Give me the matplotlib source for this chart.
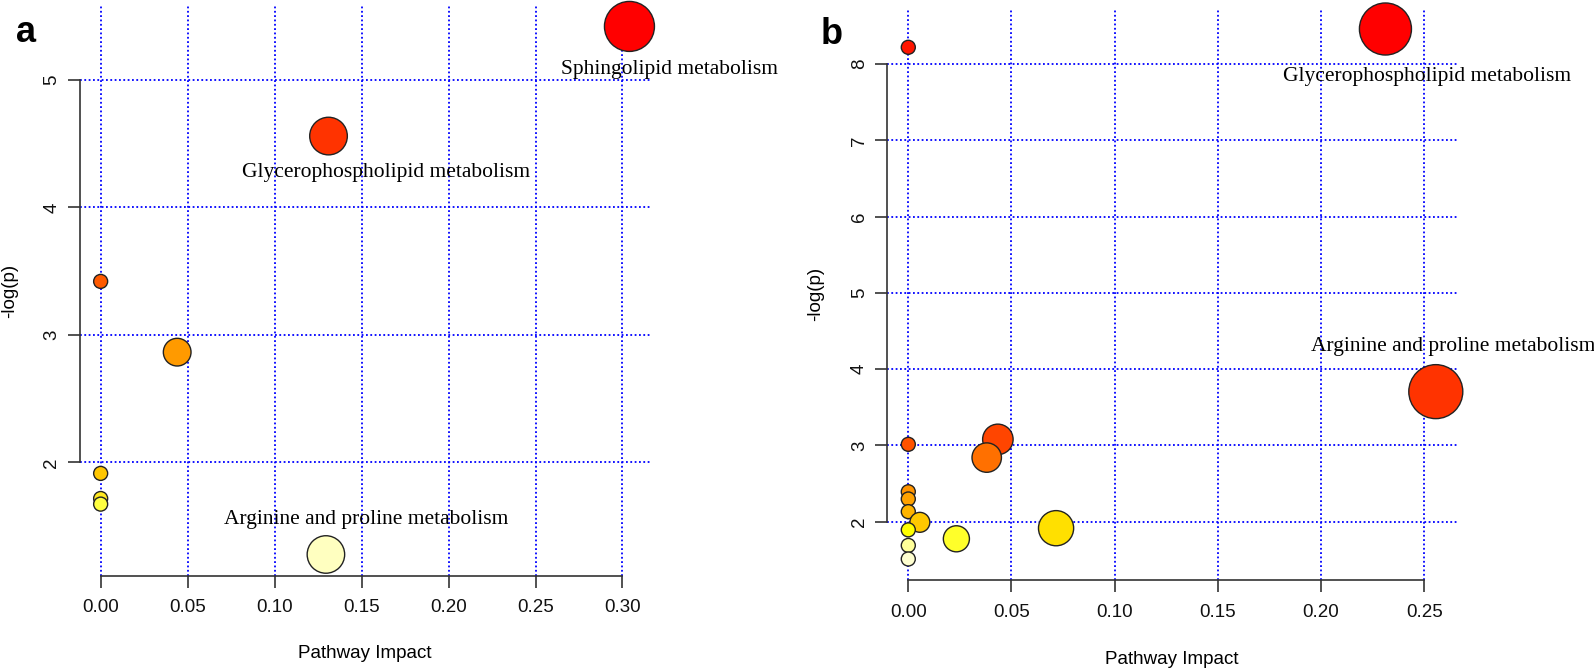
import matplotlib
matplotlib.use("Agg")
import matplotlib.pyplot as plt
import numpy as np

W, H, DPI = 1594, 668, 100

# ---------------- data: panel a ----------------
a_impact = [0.304, 0.131, 0.000, 0.044, 0.000, 0.000, 0.000, 0.1295]
a_logp = [5.42, 4.56, 3.42, 2.865, 1.914, 1.717, 1.673, 1.278]
a_colors = ["#FF0000", "#FF3300", "#FF5A00", "#FF9A00", "#FFC600", "#FFE820", "#FFFF40", "#FFFFC0"]
a_xticks = [0.00, 0.05, 0.10, 0.15, 0.20, 0.25, 0.30]
a_yticks = [2, 3, 4, 5]
a_labels = {0: "Sphingolipid metabolism", 1: "Glycerophospholipid metabolism",
            7: "Arginine and proline metabolism"}

# ---------------- data: panel b ----------------
b_impact = [0.2312, 0.000, 0.2556, 0.0434, 0.000, 0.038, 0.000, 0.000, 0.000,
            0.0056, 0.0716, 0.000, 0.0233, 0.000, 0.000]
b_logp = [8.46, 8.22, 3.704, 3.078, 3.013, 2.839, 2.391, 2.296, 2.130,
          1.99, 1.913, 1.891, 1.774, 1.687, 1.509]
b_colors = ["#FF0000", "#FF1500", "#FF3300", "#FF4500", "#FF5200", "#FF7000", "#FF9400",
            "#FFA200", "#FFB400", "#FFC800", "#FFE000", "#FFFF00", "#FFFF2A", "#FFFF99", "#FFFFD0"]
b_xticks = [0.00, 0.05, 0.10, 0.15, 0.20, 0.25]
b_yticks = [2, 3, 4, 5, 6, 7, 8]
b_labels = {0: "Glycerophospholipid metabolism", 2: "Arginine and proline metabolism"}

# label offsets (pixels, right / down) -- styling
a_offsets = {0: (40, 43), 1: (58, 36), 7: (40, -35)}
b_offsets = {0: (42, 47), 2: (17, -45)}

PX2PT = 72.0 / DPI


def rlim(v):
    lo, hi = min(v), max(v)
    e = 0.04 * (hi - lo)
    return lo - e, hi + e


def draw(ax, impact, logp, colors, xticks, yticks, labels, offsets, kmax):
    impact = np.asarray(impact)
    r = 7 + kmax * np.sqrt(impact / impact.max())
    s = (2 * r * PX2PT) ** 2
    ax.set_xlim(*rlim(impact))
    ax.set_ylim(*rlim(logp))
    ax.set_xticks(xticks)
    ax.set_xticklabels([f"{t:.2f}" for t in xticks])
    ax.set_yticks(yticks)
    ax.set_yticklabels([str(t) for t in yticks])
    for sp in ["top", "right"]:
        ax.spines[sp].set_visible(False)
    for sp in ["left", "bottom"]:
        ax.spines[sp].set_color("#333333")
        ax.spines[sp].set_linewidth(1.2)
    ax.spines["left"].set_bounds(yticks[0], yticks[-1])
    ax.spines["bottom"].set_bounds(xticks[0], xticks[-1])
    ax.grid(True, color="#0000FF", linestyle=(0, (1.0, 1.4)), linewidth=1.3)
    ax.set_axisbelow(True)
    ax.tick_params(direction="out", length=8.3, width=1.2, color="#333333",
                   labelsize=13.5, labelcolor="#111111")
    ax.tick_params(axis="x", pad=8.5)
    ax.tick_params(axis="y", labelrotation=90, pad=5.5)
    for lab in ax.get_yticklabels():
        lab.set_va("center")
    ax.scatter(impact, logp, s=s, c=colors, edgecolors="#222222", linewidths=1.0,
               zorder=3, clip_on=False)
    for i, name in labels.items():
        dx, dy = offsets[i]
        ax.annotate(name, xy=(impact[i], logp[i]), xytext=(dx * PX2PT, -dy * PX2PT),
                    textcoords="offset points", ha="center", va="center",
                    family="Liberation Serif", fontsize=15.5, color="black",
                    annotation_clip=False, zorder=4)


fig = plt.figure(figsize=(W / DPI, H / DPI), dpi=DPI)
plt.rcParams["font.family"] = ["Liberation Sans", "DejaVu Sans"]


def add_axes_px(l, r, t, b):
    return fig.add_axes([l / W, 1 - b / H, (r - l) / W, (b - t) / H])


axa = add_axes_px(79.5, 650.6, 5.3, 575.6)
draw(axa, a_impact, a_logp, a_colors, a_xticks, a_yticks, a_labels, a_offsets, 18)
axa.set_xlabel("Pathway Impact", fontsize=13.5, va="center")
axa.xaxis.set_label_coords(0.5, -0.137)
axa.set_ylabel("-log(p)", fontsize=13.5, va="center")
axa.yaxis.set_label_coords(-0.1217, 0.5)

axb = add_axes_px(887.2, 1456.9, 7.8, 580.2)
draw(axb, b_impact, b_logp, b_colors, b_xticks, b_yticks, b_labels, b_offsets, 20)
axb.set_xlabel("Pathway Impact", fontsize=13.5, va="center")
axb.xaxis.set_label_coords(0.5, -0.1394)
axb.set_ylabel("-log(p)", fontsize=13.5, va="center")
axb.yaxis.set_label_coords(-0.1253, 0.5)

fig.text(26 / W, 1 - 33 / H, "a", fontsize=26, fontweight="bold", ha="center", va="center")
fig.text(832 / W, 1 - 35 / H, "b", fontsize=26, fontweight="bold", ha="center", va="center")

fig.savefig("out.png", dpi=DPI)
